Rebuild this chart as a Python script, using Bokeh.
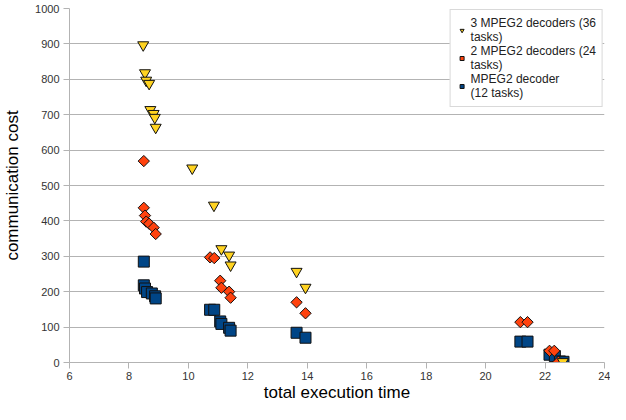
import numpy as np
from bokeh.plotting import figure
from bokeh.models import Legend, LegendItem, FixedTicker, Range1d
from bokeh.embed import file_html
from bokeh.resources import INLINE

# 3 MPEG2 decoders (36 tasks)
x3 = [8.48, 8.54, 8.58, 8.68, 8.72, 8.83, 8.87, 8.90, 10.13, 10.86, 11.11, 11.37, 11.42, 13.64, 13.94, 22.60]
y3 = [897, 818, 797, 788, 714, 703, 692, 664, 549, 444, 321, 303, 275, 257, 212, 2]

# 2 MPEG2 decoders (24 tasks)
x2 = [8.50, 8.50, 8.54, 8.58, 8.68, 8.83, 8.90, 10.73, 10.87, 11.07, 11.11, 11.37, 11.42, 13.64, 13.94,
      21.17, 21.41, 22.15, 22.31, 22.45]
y2 = [569, 437, 415, 398, 392, 381, 363, 297, 295, 231, 211, 200, 183, 170, 139,
      114, 114, 33, 33, 2]

# MPEG2 decoder (12 tasks)
x1 = [8.50, 8.50, 8.54, 8.61, 8.77, 8.88, 8.90, 10.73, 10.87, 11.07, 11.11, 11.37, 11.42, 13.64, 13.94,
      21.17, 21.41, 22.15, 22.33, 22.50, 22.62]
y1 = [285, 218, 209, 199, 195, 187, 181, 149, 149, 116, 109, 98, 90, 84, 70,
      59, 59, 22, 18, 3, 2]

x_ticks = [6, 8, 10, 12, 14, 16, 18, 20, 22, 24]
y_ticks = [0, 100, 200, 300, 400, 500, 600, 700, 800, 900, 1000]

labels = ["3 MPEG2 decoders (36\ntasks)", "2 MPEG2 decoders (24\ntasks)", "MPEG2 decoder\n(12 tasks)"]

FONT = "Liberation Sans"
GRID = "#b3b3b3"

p = figure(width=610, height=404, output_backend="svg", toolbar_location=None,
           x_range=Range1d(6, 24), y_range=Range1d(0, 1000),
           min_border_left=62, min_border_right=6, min_border_top=8, min_border_bottom=0)
p.outline_line_color = None
p.background_fill_color = "white"
p.border_fill_color = "white"
p.xgrid.grid_line_color = None
p.ygrid.grid_line_color = GRID
p.ygrid.grid_line_width = 1

for ax in (p.xaxis[0], p.yaxis[0]):
    ax.axis_line_color = GRID
    ax.major_tick_line_color = GRID
    ax.minor_tick_line_color = None
    ax.major_tick_in = 0
    ax.major_tick_out = 6
    ax.major_label_text_font = FONT
    ax.major_label_text_font_size = "11px"
    ax.major_label_text_color = "#333333"
    ax.axis_label_text_font = FONT
    ax.axis_label_text_font_size = "17px"
    ax.axis_label_text_font_style = "normal"
    ax.axis_label_text_color = "#000000"
    ax.major_label_standoff = 4

p.xaxis.ticker = FixedTicker(ticks=x_ticks)
p.yaxis.ticker = FixedTicker(ticks=y_ticks)
p.xaxis.axis_label = "total execution time"
p.yaxis.axis_label = "communication cost"
p.xaxis.major_label_standoff = 3
p.xaxis.axis_label_standoff = 0
p.yaxis.axis_label_standoff = 10

r1 = p.scatter(x1, y1, marker="square", size=11, fill_color="#004586", line_color="#111111", line_width=1)
r2 = p.scatter(x2, y2, marker="square", angle=np.pi / 4, size=8, fill_color="#FF420E", line_color="#111111", line_width=1)
r3 = p.scatter(x3, y3, marker="inverted_triangle", size=11, fill_color="#FFD320", line_color="#111111", line_width=1)

legend = Legend(items=[LegendItem(label=labels[0], renderers=[r3]),
                       LegendItem(label=labels[1], renderers=[r2]),
                       LegendItem(label=labels[2], renderers=[r1])],
                location="top_right")
legend.border_line_color = GRID
legend.border_line_width = 1
legend.background_fill_color = "white"
legend.background_fill_alpha = 1
legend.label_text_font = FONT
legend.label_text_font_size = "12px"
legend.label_text_color = "#222222"
legend.glyph_width = 10
legend.glyph_height = 10
legend.label_standoff = 4
legend.spacing = 0
legend.padding = 6
legend.margin = 1
p.add_layout(legend)

open("out.html", "w").write(file_html(p, INLINE))
